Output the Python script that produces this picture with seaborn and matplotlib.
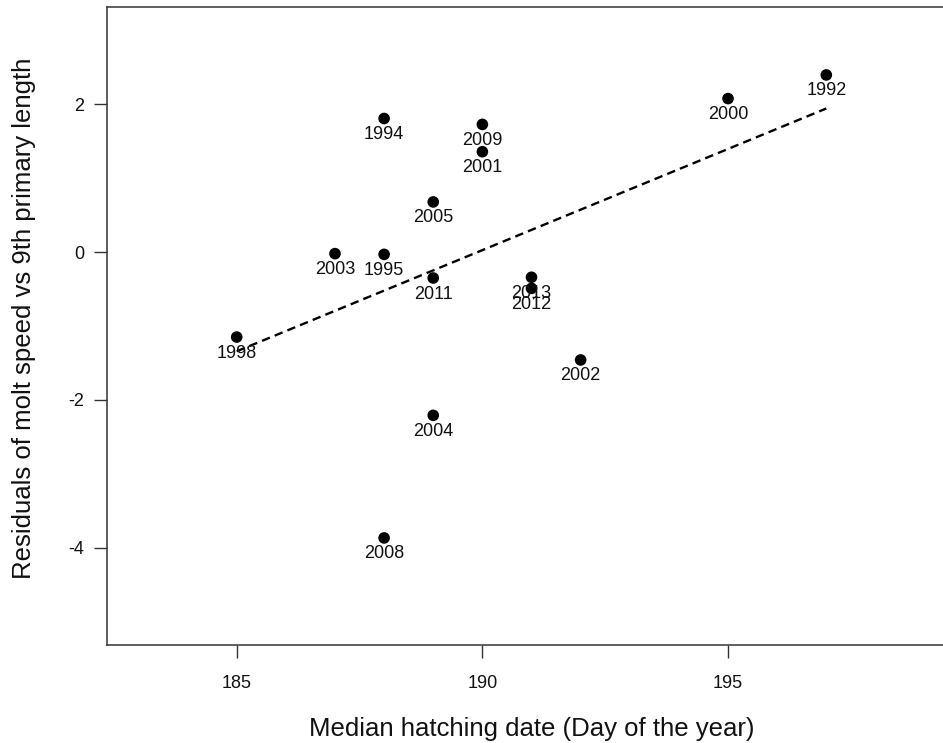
import matplotlib
matplotlib.use("Agg")
import matplotlib.pyplot as plt
import seaborn as sns
import pandas as pd

# Data
years = ["1998", "2003", "1995", "1994", "2008", "2005", "2011", "2004",
         "2009", "2001", "2013", "2012", "2002", "2000", "1992"]
hatch_day = [185, 187, 188, 188, 188, 189, 189, 189,
             190, 190, 191, 191, 192, 195, 197]
residuals = [-1.15, -0.02, -0.03, 1.81, -3.87, 0.68, -0.35, -2.21,
             1.73, 1.36, -0.34, -0.49, -1.46, 2.08, 2.40]
x_ticks = [185, 190, 195]
y_ticks = [-4, -2, 0, 2]

df = pd.DataFrame({"year": years, "day": hatch_day, "res": residuals})

sns.set_style("ticks")
plt.rcParams["font.family"] = ["Liberation Sans", "DejaVu Sans"]

fig = plt.figure(figsize=(9.43, 7.43), dpi=100)
ax = fig.add_axes([107 / 943, 1 - 645 / 743, (956 - 107) / 943, (645 - 7) / 743])

sns.scatterplot(data=df, x="day", y="res", ax=ax, color="black", s=70,
                edgecolor="none", zorder=3)
sns.regplot(data=df, x="day", y="res", ax=ax, scatter=False, ci=None,
            color="black", line_kws={"linestyle": (0, (3.6, 2.2)), "linewidth": 1.7})

for yr, xv, yv in zip(years, hatch_day, residuals):
    ax.annotate(yr, (xv, yv), xytext=(0, -16), textcoords="offset pixels",
                ha="center", va="center", fontsize=13, color="#111111")

ax.set_xlim(182.36, 199.64)
ax.set_ylim(-5.32, 3.32)
ax.set_xticks(x_ticks)
ax.set_yticks(y_ticks)
ax.set_xticklabels([str(v) for v in x_ticks])
ax.set_yticklabels([str(v) for v in y_ticks])
ax.tick_params(axis="both", direction="out", length=9.5, width=1, color="#333333",
               labelsize=13, labelcolor="#111111")
ax.tick_params(axis="x", pad=12)
ax.tick_params(axis="y", pad=7)
for sp in ax.spines.values():
    sp.set_visible(True)
    sp.set_color("#333333")
    sp.set_linewidth(1.1)

ax.set_xlabel("Median hatching date (Day of the year)", fontsize=18.5, color="#111111")
ax.set_ylabel("Residuals of molt speed vs 9th primary length", fontsize=18.5, color="#111111")
ax.xaxis.label.set_va("baseline")
ax.xaxis.set_label_coords(0.5, (645 - 736) / 638)
ax.yaxis.label.set_va("center")
ax.yaxis.label.set_ha("center")
ax.yaxis.set_label_coords((24 - 107) / 849, (645 - 318) / 638)

fig.savefig("out.png", dpi=100)
